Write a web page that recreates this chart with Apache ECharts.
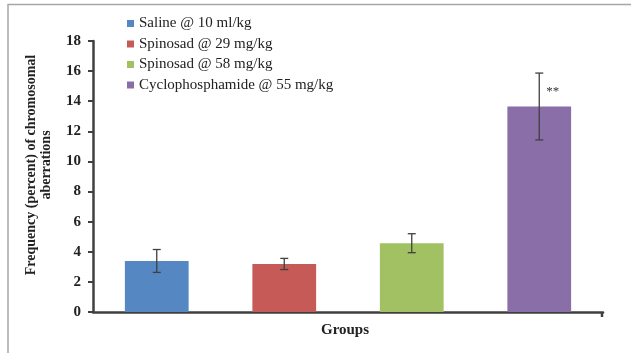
<!DOCTYPE html>
<html>
<head>
<meta charset="utf-8">
<script src="https://cdn.jsdelivr.net/npm/echarts@6/dist/echarts.min.js"></script>
<style>
  html, body { margin: 0; padding: 0; background: #fff; }
  #chart { width: 631px; height: 353px; }
</style>
</head>
<body>
<div id="chart"></div>
<script>
// Treatment groups and their mean aberration frequencies (%) with SD
const groups = ['Saline @ 10 ml/kg', 'Spinosad @ 29 mg/kg', 'Spinosad @ 58 mg/kg', 'Cyclophosphamide @ 55 mg/kg'];
const means = [3.39, 3.19, 4.57, 13.65];
const errors = [0.76, 0.37, 0.63, 2.22];
const marks = ['', '', '', '**'];
const colors = ['#5587C3', '#C55A57', '#A2C162', '#8A6EA8'];
const yTicks = [0, 2, 4, 6, 8, 10, 12, 14, 16, 18];
const yTitle = ['Frequency (percent) of chromosomal', 'aberrations'];

const serif = '"Liberation Serif", "Times New Roman", serif';

// one stacked series per group so every bar sits centred in its own slot
const barSeries = groups.map((name, i) => ({
  name: name,
  type: 'bar',
  stack: 'groups',
  barWidth: '50%',
  itemStyle: { color: colors[i] },
  data: groups.map((g, j) => (j === i ? means[i] : '-'))
}));

// error bars, significance marks and the closing tick of the category axis
const errorSeries = {
  type: 'custom',
  name: 'sd',
  z: 10,
  data: means.map((m, i) => [i, m, errors[i]]),
  renderItem: function (params, api) {
    const idx = api.value(0);
    const m = api.value(1);
    const e = api.value(2);
    const top = api.coord([idx, m + e]);
    const bot = api.coord([idx, m - e]);
    const half = 4;
    const style = { stroke: '#404040', lineWidth: 1.3 };
    const children = [
      { type: 'line', shape: { x1: top[0], y1: top[1], x2: bot[0], y2: bot[1] }, style: style },
      { type: 'line', shape: { x1: top[0] - half, y1: top[1], x2: top[0] + half, y2: top[1] }, style: style },
      { type: 'line', shape: { x1: bot[0] - half, y1: bot[1], x2: bot[0] + half, y2: bot[1] }, style: style }
    ];
    const mark = marks[params.dataIndex];
    if (mark) {
      const p = api.coord([idx, m]);
      children.push({
        type: 'text',
        style: {
          text: mark, x: p[0] + 7, y: p[1] - 15,
          font: '13px ' + serif, fill: '#333', textAlign: 'left', textVerticalAlign: 'middle'
        }
      });
    }
    if (params.dataIndex === groups.length - 1) {
      const base = api.coord([idx, 0]);
      const band = api.size([1, 0])[0];
      const x = base[0] + band / 2 - 1;
      children.push({
        type: 'line',
        shape: { x1: x, y1: base[1], x2: x, y2: base[1] + 5 },
        style: { stroke: '#404040', lineWidth: 2.5 }
      });
    }
    return { type: 'group', children: children };
  }
};

const chart = echarts.init(document.getElementById('chart'), null, { renderer: 'canvas' });
chart.setOption({
  animation: false,
  backgroundColor: '#fff',
  graphic: [
    {
      type: 'rect',
      shape: { x: 8, y: 4.5, width: 700, height: 400 },
      style: { fill: 'none', stroke: '#a6a6a6', lineWidth: 1.5 },
      z: -10
    },
    {
      type: 'text',
      x: 39,
      y: 165,
      rotation: Math.PI / 2,
      style: {
        text: yTitle.join('\n'),
        font: 'bold 14px ' + serif,
        fill: '#222',
        align: 'center',
        verticalAlign: 'middle',
        lineHeight: 15
      }
    }
  ],
  legend: {
    orient: 'vertical',
    left: 127,
    top: 16,
    padding: 0,
    itemWidth: 7,
    itemHeight: 7,
    itemGap: 5.5,
    icon: 'rect',
    data: groups,
    textStyle: { fontFamily: serif, fontSize: 15, color: '#222' }
  },
  grid: { left: 93, right: 28, top: 41, bottom: 41, containLabel: false },
  xAxis: {
    type: 'category',
    data: groups,
    name: 'Groups',
    nameLocation: 'middle',
    nameGap: 11,
    nameTextStyle: { fontFamily: serif, fontSize: 15, fontWeight: 'bold', color: '#222', padding: [0, 6, 0, 0] },
    axisLine: { lineStyle: { color: '#404040', width: 2.5 } },
    axisTick: { show: false },
    axisLabel: { show: false }
  },
  yAxis: {
    type: 'value',
    min: 0,
    max: 18,
    interval: 2,
    axisLine: { show: true, lineStyle: { color: '#404040', width: 2.5 } },
    axisTick: { show: true, length: 5, lineStyle: { color: '#404040', width: 2 } },
    axisLabel: {
      fontFamily: serif, fontSize: 15, fontWeight: 'bold', color: '#222', margin: 12,
      formatter: v => (yTicks.indexOf(v) >= 0 ? String(v) : '')
    },
    splitLine: { show: false }
  },
  series: barSeries.concat([errorSeries])
});
</script>
</body>
</html>
